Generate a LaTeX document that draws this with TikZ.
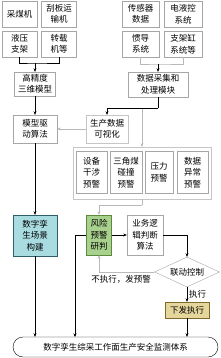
\documentclass[tikz,border=0pt]{standalone}
\usepackage{fontspec}
\setmainfont{Noto Sans CJK SC}
\usetikzlibrary{arrows.meta,positioning,shapes.geometric}
\definecolor{twincyan}{HTML}{A8DCE0}
\definecolor{twinedge}{HTML}{2E5E6A}
\definecolor{riskgreen}{HTML}{A9D18E}
\definecolor{riskedge}{HTML}{5B8A3C}
\definecolor{execyellow}{HTML}{E5D69C}
\definecolor{execedge}{HTML}{7F6A2A}
\def\BoxW{35}
\def\BoxH{26}

\begin{document}
\begin{tikzpicture}[x=1pt, y=-1pt,
  >={Stealth[length=3.5pt,width=3pt]},
  every node/.style={font=\fontsize{8.5}{11.5}\selectfont, align=center, inner sep=0pt},
  box/.style ={draw=gray!70, thin},
  link/.style={black, thin},
  glink/.style={gray!55, thin}
]
\useasboundingbox (0,0) rectangle (220,358);

% --- Equipment and sensor sources -----------------------------------
\node[box, minimum width=\BoxW, minimum height=\BoxH] (cmj)  at (19.5,14)  {采煤机};
\node[box, minimum width=\BoxW, minimum height=\BoxH] (gbys) at (59,14)    {刮板运\\输机};
\node[box, minimum width=\BoxW, minimum height=\BoxH] (yyzj) at (19.5,44)  {液压\\支架};
\node[box, minimum width=\BoxW, minimum height=\BoxH] (zzj)  at (59,44)    {转载\\机等};

\node[box, minimum width=37, minimum height=\BoxH] (cgq)  at (140.5,14) {传感器\\数据};
\node[box, minimum width=38, minimum height=\BoxH] (dyk)  at (183,14)   {电液控\\系统};
\node[box, minimum width=37, minimum height=\BoxH] (gd)   at (140.5,44) {惯导\\系统};
\node[box, minimum width=38, minimum height=\BoxH] (zjg)  at (183,44)   {支架缸\\系统等};

% --- Models and data processing --------------------------------------
\node[box, minimum width=41, minimum height=24] (gjd)  at (35,84)   {高精度\\三维模型};
\node[box, minimum width=60, minimum height=25] (sjcj) at (158,84.5) {数据采集和\\处理模块};
\node[box, minimum width=44, minimum height=28] (mxqd) at (35,129)  {模型驱\\动算法};
\node[box, draw=gray!45, minimum width=42, minimum height=28] (scsj) at (107,129) {生产数据\\可视化};

% --- Warning group ---------------------------------------------------
\node[box, draw=gray!45, minimum width=138, minimum height=52] (yj) at (142,173) {};
\node[box, minimum width=31, minimum height=42] (sbgs) at (91.5,172.5) {设备\\干涉\\预警};
\node[box, minimum width=32, minimum height=42] (sjm)  at (126,172.5)  {三角煤\\碰撞\\预警};
\node[box, minimum width=28, minimum height=42] (ylyj) at (159,172.5)  {压力\\预警};
\node[box, minimum width=31, minimum height=42] (sjyc) at (192.5,172.5) {数据\\异常\\预警};

% --- Twin, risk and control ------------------------------------------
\node[draw=twinedge, fill=twincyan, minimum width=44, minimum height=41] (szls) at (35,235.5) {数字孪\\生场景\\构建};
\node[draw=riskedge, fill=riskgreen, minimum width=25, minimum height=40] (fxyj) at (99,235) {风险\\预警\\研判};
\node[box, minimum width=36, minimum height=40] (ywlj) at (145,235) {业务逻\\辑判断\\算法};
\node[draw=gray!70, diamond, aspect=2.2, minimum width=65, minimum height=30] (ldkz) at (187,272) {联动控制};
\node[draw=execedge, fill=execyellow, minimum width=44, minimum height=16] (xfzx) at (187,310) {下发执行};
\node[draw=black, rounded corners=10pt, minimum width=205, minimum height=20] (txi) at (115.5,347)
  {数字孪生综采工作面生产安全监测体系};

\coordinate (j1) at (35,63);
\coordinate (j2) at (158,64);
\coordinate (j3) at (158,108);
\coordinate (j4) at (142,205);
\coordinate (b1) at (75,337);

% --- Connectors ------------------------------------------------------
\draw[link] (yyzj.south) |- (j1) -| (zzj.south);
\draw[link,->] (j1) -- (gjd.north);
\draw[glink] (gd.south) |- (j2) -| (zjg.south);
\draw[link,->] (j2) -- (sjcj.north);

\draw[glink,->] (j3) -| (yj.north);
\draw[link] (sjcj.south) -- (j3);
\draw[link,->] (j3) -| (scsj.north);
\draw[glink,->] (scsj.west) -- (mxqd.east);
\draw[link,->] (gjd.south) -- (mxqd.north);
\draw[link,->] (mxqd.south) -- (szls.north);

\draw[glink] (yj.south) -- (j4);
\draw[glink,->] (j4) -| (fxyj.north);
\draw[link,->] (fxyj.east) -- (ywlj.west);
\draw[link,->] (ywlj.east) -| (ldkz.north);
\draw[glink,->] (ldkz.west) -| node[pos=0.3, below=3pt, black] {不执行，发预警} (fxyj.south);
\draw[link,->] (ldkz.south) -- node[right=2pt] {执行} (xfzx.north);
\draw[link,->] (xfzx.south) -- (xfzx.south |- txi.north);
\draw[link,->] (szls.south) -- (szls.south |- txi.north);
\draw[link,->] (fxyj.west) -| (b1);

\end{tikzpicture}
\end{document}
